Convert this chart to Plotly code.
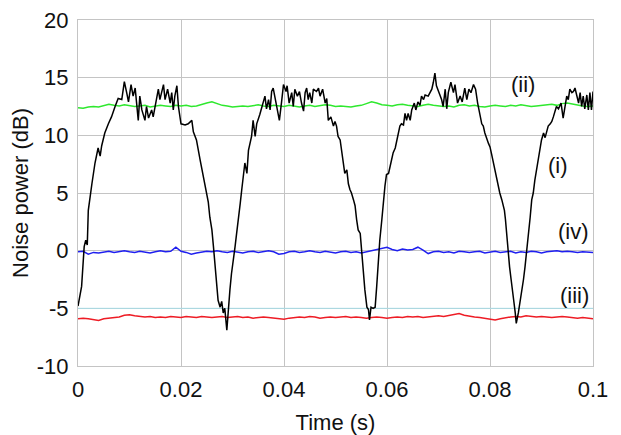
import plotly.graph_objects as go

# ---- data ----
time_i = [0.0000, 0.0007, 0.0012, 0.0015, 0.0018, 0.0020, 0.0027, 0.0033, 0.0039, 0.0043,
          0.0046, 0.0052, 0.0059, 0.0065, 0.0072, 0.0078, 0.0085, 0.0090, 0.0095, 0.0098,
          0.0103, 0.0107, 0.0111, 0.0117, 0.0120, 0.0124, 0.0130, 0.0133, 0.0137, 0.0143,
          0.0146, 0.0153, 0.0156, 0.0159, 0.0166, 0.0169, 0.0174, 0.0179, 0.0182, 0.0185,
          0.0188, 0.0192, 0.0195, 0.0200, 0.0208, 0.0214, 0.0221, 0.0224, 0.0230, 0.0237,
          0.0243, 0.0250, 0.0253, 0.0256, 0.0260, 0.0263, 0.0266, 0.0269, 0.0272, 0.0276,
          0.0279, 0.0282, 0.0285, 0.0289, 0.0292, 0.0295, 0.0298, 0.0302, 0.0305, 0.0308,
          0.0311, 0.0315, 0.0318, 0.0321, 0.0324, 0.0328, 0.0331, 0.0337, 0.0340, 0.0344,
          0.0347, 0.0353, 0.0360, 0.0363, 0.0366, 0.0370, 0.0373, 0.0376, 0.0379, 0.0383,
          0.0387, 0.0391, 0.0395, 0.0399, 0.0404, 0.0406, 0.0410, 0.0415, 0.0418, 0.0421,
          0.0426, 0.0430, 0.0434, 0.0438, 0.0441, 0.0444, 0.0447, 0.0450, 0.0454, 0.0457,
          0.0463, 0.0467, 0.0470, 0.0475, 0.0480, 0.0483, 0.0486, 0.0491, 0.0496, 0.0499,
          0.0502, 0.0505, 0.0509, 0.0512, 0.0515, 0.0518, 0.0522, 0.0525, 0.0528, 0.0531,
          0.0535, 0.0538, 0.0541, 0.0544, 0.0548, 0.0551, 0.0554, 0.0557, 0.0561, 0.0564,
          0.0566, 0.0569, 0.0573, 0.0577, 0.0580, 0.0583, 0.0586, 0.0590, 0.0593, 0.0596,
          0.0599, 0.0603, 0.0606, 0.0609, 0.0612, 0.0616, 0.0619, 0.0622, 0.0625, 0.0628,
          0.0632, 0.0635, 0.0638, 0.0641, 0.0645, 0.0648, 0.0653, 0.0656, 0.0660, 0.0664,
          0.0667, 0.0671, 0.0674, 0.0680, 0.0687, 0.0690, 0.0693, 0.0696, 0.0700, 0.0706,
          0.0709, 0.0713, 0.0716, 0.0719, 0.0724, 0.0729, 0.0732, 0.0737, 0.0742, 0.0746,
          0.0751, 0.0755, 0.0759, 0.0763, 0.0768, 0.0772, 0.0776, 0.0781, 0.0784, 0.0787,
          0.0790, 0.0797, 0.0800, 0.0803, 0.0808, 0.0813, 0.0816, 0.0819, 0.0823, 0.0828,
          0.0830, 0.0834, 0.0838, 0.0841, 0.0843, 0.0846, 0.0849, 0.0851, 0.0855, 0.0858,
          0.0862, 0.0865, 0.0868, 0.0871, 0.0874, 0.0878, 0.0881, 0.0884, 0.0887, 0.0891,
          0.0894, 0.0897, 0.0900, 0.0904, 0.0907, 0.0910, 0.0913, 0.0917, 0.0920, 0.0923,
          0.0926, 0.0929, 0.0933, 0.0938, 0.0942, 0.0946, 0.0949, 0.0952, 0.0955, 0.0959,
          0.0962, 0.0965, 0.0968, 0.0972, 0.0975, 0.0978, 0.0981, 0.0984, 0.0988, 0.0991,
          0.0994, 0.0997, 0.1000]
power_i = [-4.8, -3.1, 0.35, 0.9, 0.5, 3.5, 5.8, 7.6, 8.9, 8.2,
           9.1, 10.2, 11.0, 11.6, 12.5, 13.2, 13.1, 14.65, 13.6, 12.9,
           14.4, 13.4, 14.1, 11.3, 13.4, 12.2, 11.3, 12.5, 11.5, 12.2,
           11.6, 13.4, 14.0, 13.1, 14.4, 13.1, 14.0, 12.8, 13.7, 12.2,
           13.4, 14.3, 12.5, 11.0, 10.9, 11.0, 11.3, 10.3, 9.6, 7.9,
           6.4, 4.9, 4.2, 2.9, 1.8, 0.35, -1.4, -3.1, -4.3, -4.9,
           -4.4, -5.4, -5.0, -6.9, -4.9, -3.4, -2.0, -0.8, 0.35, 1.5,
           2.9, 4.1, 5.3, 6.7, 7.6, 6.7, 8.7, 9.9, 11.3, 9.9,
           11.0, 11.8, 12.8, 13.4, 12.3, 13.1, 12.2, 13.8, 14.1, 13.1,
           12.0, 11.3, 12.8, 14.4, 13.8, 14.3, 12.8, 13.7, 12.5, 14.0,
           13.4, 13.8, 12.8, 12.1, 13.7, 14.1, 13.1, 13.7, 12.8, 14.0,
           13.8, 14.1, 13.4, 14.0, 12.8, 13.2, 11.3, 11.6, 10.8, 11.2,
           10.8, 9.9, 9.6, 8.7, 7.6, 6.7, 7.0, 5.8, 5.3, 5.0,
           4.4, 3.9, 2.7, 1.8, 1.5, -0.2, -2.0, -3.4, -4.9, -5.1,
           -6.0, -4.9, -5.0, -4.9, -3.1, -0.8, 0.9, 2.7, 4.4, 5.6,
           6.6, 6.7, 7.3, 7.9, 8.5, 8.9, 9.6, 10.2, 10.8, 11.0,
           10.9, 11.9, 11.3, 11.9, 11.3, 12.2, 12.8, 12.2, 12.9, 12.6,
           13.4, 13.1, 13.5, 13.4, 14.0, 14.6, 15.4, 14.3, 13.8, 13.1,
           12.5, 14.0, 12.3, 13.7, 14.6, 13.7, 14.4, 12.8, 13.4, 12.9,
           14.1, 13.1, 14.0, 13.7, 14.4, 14.0, 12.8, 11.6, 11.0, 10.8,
           10.2, 9.3, 9.0, 8.4, 7.3, 6.1, 5.6, 5.0, 4.4, 3.5,
           2.7, 0.35, -1.4, -2.5, -3.4, -4.3, -5.4, -6.3, -5.4, -4.6,
           -3.7, -2.5, -1.4, -0.2, 1.5, 2.9, 4.4, 5.0, 6.1, 7.3,
           8.2, 9.0, 9.6, 10.2, 9.8, 10.3, 10.8, 11.0, 11.2, 11.6,
           12.1, 12.5, 12.3, 12.8, 11.5, 12.5, 13.4, 13.1, 14.0, 13.7,
           13.8, 14.1, 13.5, 12.8, 13.7, 12.5, 13.4, 12.3, 13.5, 12.2,
           13.7, 12.2, 13.8]

time_flat = [0.000, 0.001, 0.002, 0.003, 0.004, 0.005, 0.006, 0.007, 0.008, 0.009,
             0.010, 0.011, 0.012, 0.013, 0.014, 0.015, 0.016, 0.017, 0.018, 0.019,
             0.020, 0.021, 0.022, 0.023, 0.024, 0.025, 0.026, 0.027, 0.028, 0.029,
             0.030, 0.031, 0.032, 0.033, 0.034, 0.035, 0.036, 0.037, 0.038, 0.039,
             0.040, 0.041, 0.042, 0.043, 0.044, 0.045, 0.046, 0.047, 0.048, 0.049,
             0.050, 0.051, 0.052, 0.053, 0.054, 0.055, 0.056, 0.057, 0.058, 0.059,
             0.060, 0.061, 0.062, 0.063, 0.064, 0.065, 0.066, 0.067, 0.068, 0.069,
             0.070, 0.071, 0.072, 0.073, 0.074, 0.075, 0.076, 0.077, 0.078, 0.079,
             0.080, 0.081, 0.082, 0.083, 0.084, 0.085, 0.086, 0.087, 0.088, 0.089,
             0.090, 0.091, 0.092, 0.093, 0.094, 0.095, 0.096, 0.097, 0.098, 0.099,
             0.100]
power_ii = [12.4, 12.35, 12.45, 12.5, 12.45, 12.6, 12.7, 12.6, 12.55, 12.65,
            12.6, 12.5, 12.55, 12.6, 12.45, 12.5, 12.6, 12.55, 12.5, 12.6,
            12.55, 12.6, 12.5, 12.55, 12.7, 12.8, 12.9, 12.75, 12.6, 12.55,
            12.45, 12.5, 12.55, 12.5, 12.6, 12.65, 12.55, 12.5, 12.6, 12.55,
            12.5, 12.6, 12.55, 12.45, 12.55, 12.6, 12.5, 12.55, 12.65, 12.6,
            12.5, 12.55, 12.5, 12.45, 12.55, 12.6, 12.75, 12.9, 12.8, 12.65,
            12.6, 12.55, 12.65, 12.7, 12.6, 12.55, 12.5, 12.6, 12.7, 12.6,
            12.55, 12.5, 12.55, 12.45, 12.6, 12.65, 12.55, 12.6, 12.5, 12.45,
            12.55, 12.6, 12.55, 12.5, 12.6, 12.55, 12.65, 12.6, 12.5, 12.55,
            12.6, 12.65, 12.7, 12.6, 12.75, 12.8, 12.7, 12.6, 12.55, 12.5,
            12.55]
power_iv = [-0.1, -0.05, -0.3, -0.15, -0.2, -0.1, -0.05, -0.15, -0.1, 0.0,
            -0.1, -0.15, -0.05, -0.1, -0.2, -0.1, 0.0, -0.1, -0.05, 0.3,
            -0.05, -0.15, -0.3, -0.2, -0.1, -0.05, -0.1, 0.0, -0.1, -0.15,
            -0.05, -0.1, -0.2, -0.1, -0.05, -0.15, -0.1, 0.0, -0.1, -0.3,
            -0.25, -0.1, -0.05, -0.15, -0.1, 0.0, -0.1, -0.15, -0.05, -0.1,
            -0.2, -0.1, -0.05, -0.15, -0.1, -0.2, -0.1, 0.0, 0.1, 0.2,
            0.3, 0.1, 0.0, 0.15, 0.05, 0.1, 0.3, 0.05, -0.25, -0.1,
            -0.05, -0.15, -0.1, -0.2, -0.05, -0.1, -0.15, -0.1, -0.05, -0.2,
            -0.1, -0.05, -0.15, -0.1, -0.05, -0.2, -0.1, -0.15, -0.05, -0.1,
            -0.2, -0.1, -0.05, 0.0, -0.1, -0.05, -0.1, -0.15, -0.1, -0.1,
            -0.15]
power_iii = [-5.9, -5.85, -5.9, -6.0, -6.05, -5.9, -5.85, -5.8, -5.75, -5.6,
             -5.55, -5.65, -5.7, -5.75, -5.7, -5.8, -5.75, -5.8, -5.7, -5.75,
             -5.8, -5.7, -5.75, -5.8, -5.7, -5.75, -5.8, -5.75, -5.7, -5.8,
             -5.75, -5.7, -5.8, -5.75, -5.85, -5.8, -5.75, -5.8, -5.85, -5.9,
             -5.95, -5.85, -5.8, -5.75, -5.8, -5.7, -5.75, -5.85, -5.8, -5.75,
             -5.8, -5.75, -5.7, -5.8, -5.75, -5.8, -5.85, -5.8, -5.75, -5.8,
             -5.85, -5.8, -5.75, -5.8, -5.7, -5.75, -5.7, -5.8, -5.75, -5.7,
             -5.65, -5.7, -5.6, -5.5, -5.45, -5.6, -5.7, -5.75, -5.8, -5.85,
             -5.95, -6.0, -5.9, -5.8, -5.75, -5.7, -5.75, -5.65, -5.7, -5.75,
             -5.7, -5.75, -5.8, -5.75, -5.7, -5.75, -5.8, -5.85, -5.8, -5.85,
             -5.9]
ref_time = [0.0, 0.1]
ref_level = [-5.0, -5.0]

labels = ["(i)", "(ii)", "(iii)", "(iv)"]
x_ticks = [0, 0.02, 0.04, 0.06, 0.08, 0.1]
x_ticktext = ["0", "0.02", "0.04", "0.06", "0.08", "0.1"]
y_ticks = [-10, -5, 0, 5, 10, 15, 20]
y_ticktext = ["-10", "-5", "0", "5", "10", "15", "20"]

FONT = "Liberation Sans, Arial, sans-serif"

fig = go.Figure()
fig.add_trace(go.Scatter(x=ref_time, y=ref_level, mode="lines",
                         line=dict(color="#a8dce6", width=1), hoverinfo="skip"))
fig.add_trace(go.Scatter(x=time_flat, y=power_iii, mode="lines",
                         line=dict(color="#ee1c25", width=1.5), name=labels[2]))
fig.add_trace(go.Scatter(x=time_flat, y=power_iv, mode="lines",
                         line=dict(color="#1f1fef", width=1.5), name=labels[3]))
fig.add_trace(go.Scatter(x=time_flat, y=power_ii, mode="lines",
                         line=dict(color="#2ee82e", width=1.5), name=labels[1]))
fig.add_trace(go.Scatter(x=time_i, y=power_i, mode="lines",
                         line=dict(color="#000000", width=1.5), name=labels[0]))

ann_font = dict(family=FONT, size=22, color="#111111")
fig.add_annotation(x=0.0932, y=7.4, text=labels[0], showarrow=False, font=ann_font)
fig.add_annotation(x=0.0864, y=14.4, text=labels[1], showarrow=False, font=ann_font)
fig.add_annotation(x=0.0965, y=-3.9, text=labels[2], showarrow=False, font=ann_font)
fig.add_annotation(x=0.0963, y=1.7, text=labels[3], showarrow=False, font=ann_font)

# the page body adds an 8px offset, so the figure is placed to compensate
fig.update_layout(
    width=605, height=427,
    margin=dict(l=70, r=20, t=12, b=69),
    paper_bgcolor="white", plot_bgcolor="white",
    showlegend=False,
    font=dict(family=FONT, size=22, color="#111111"),
)
fig.update_xaxes(range=[0, 0.1], tickvals=x_ticks, ticktext=x_ticktext,
                 automargin=False, ticklabeloverflow="allow",
                 showgrid=True, gridcolor="#c4c4c4", gridwidth=1,
                 showline=True, linecolor="#c4c4c4", linewidth=1, mirror=True,
                 zeroline=False, ticks="", ticklabelstandoff=4,
                 title=dict(text="Time (s)", standoff=19, font=dict(size=22)),
                 tickfont=dict(size=22))
fig.update_yaxes(range=[-10, 20], tickvals=y_ticks, ticktext=y_ticktext,
                 automargin=False, ticklabeloverflow="allow",
                 showgrid=True, gridcolor="#c4c4c4", gridwidth=1,
                 showline=True, linecolor="#c4c4c4", linewidth=1, mirror=True,
                 zeroline=False, ticks="", ticklabelstandoff=4,
                 title=dict(text="Noise power (dB)", standoff=2, font=dict(size=22)),
                 tickfont=dict(size=22))

fig.write_html("out.html")
